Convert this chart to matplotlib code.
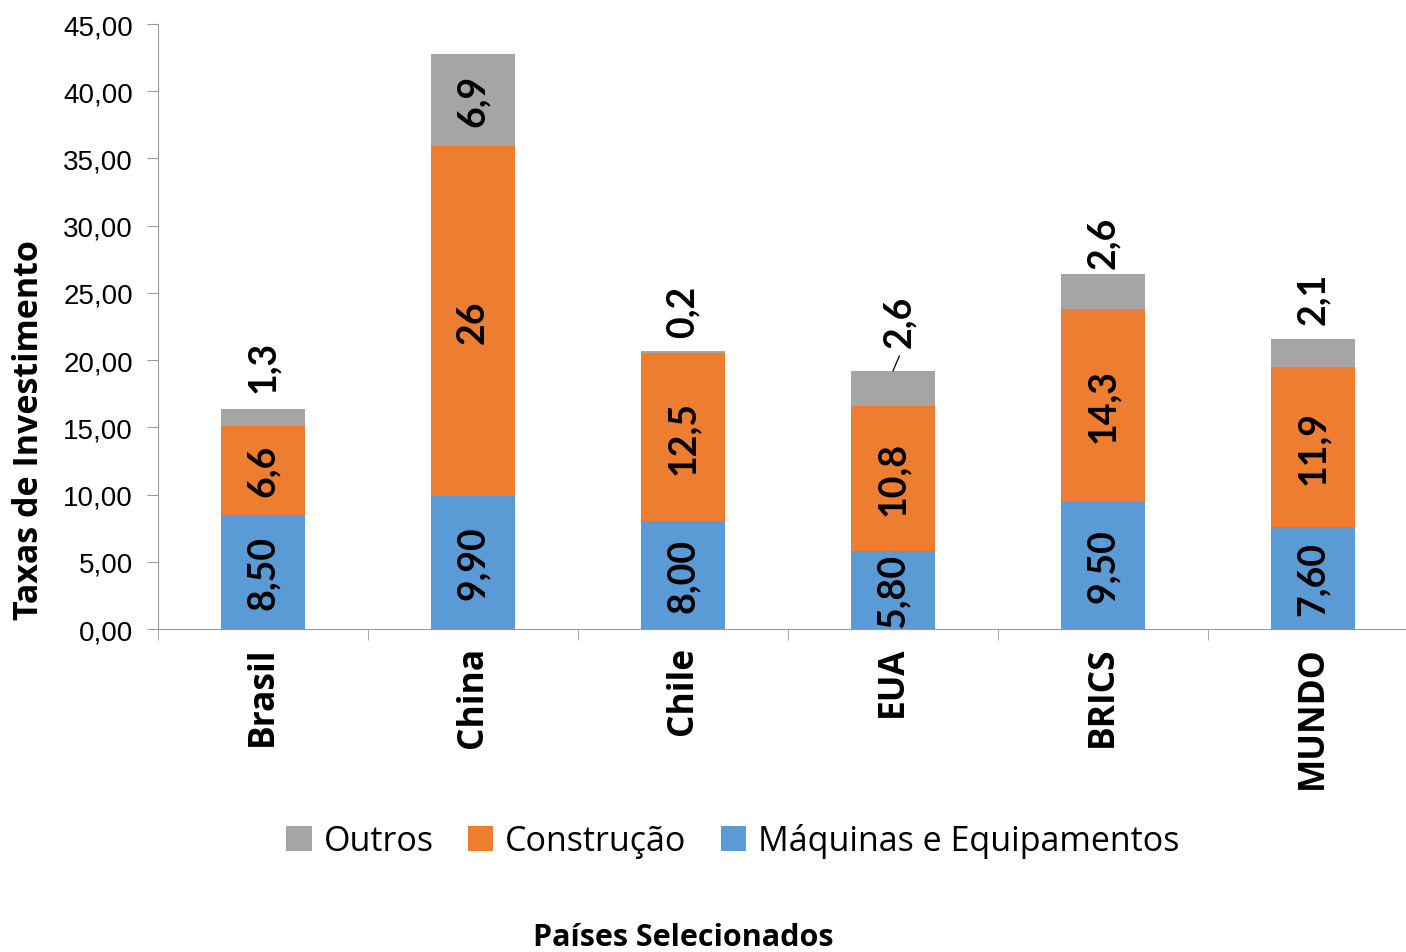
import numpy as np
import matplotlib
matplotlib.use("Agg")
import matplotlib.pyplot as plt

# data
paises = ["Brasil", "China", "Chile", "EUA", "BRICS", "MUNDO"]
maquinas = [8.50, 9.90, 8.00, 5.80, 9.50, 7.60]
construcao = [6.6, 26, 12.5, 10.8, 14.3, 11.9]
outros = [1.3, 6.9, 0.2, 2.6, 2.6, 2.1]
maquinas_lbl = ["8,50", "9,90", "8,00", "5,80", "9,50", "7,60"]
construcao_lbl = ["6,6", "26", "12,5", "10,8", "14,3", "11,9"]
outros_lbl = ["1,3", "6,9", "0,2", "2,6", "2,6", "2,1"]
y_ticks = [0, 5, 10, 15, 20, 25, 30, 35, 40, 45]

c_maq = "#5B9BD5"
c_con = "#ED7D31"
c_out = "#A5A5A5"

lbl_font = "Lato"
txt_font = "Open Sans"
tick_font = "Liberation Sans"

# gap above bar for the "Outros" labels (data units), as placed in the original
gap_out = {"Brasil": 1.2, "Chile": 1.0, "EUA": 1.8, "BRICS": 0.45, "MUNDO": 1.1}

fig = plt.figure(figsize=(14.06, 9.53), dpi=100)
ax = fig.add_axes([158 / 1406, 1 - 630 / 953, 1260 / 1406, 605 / 953])

x = np.arange(len(paises))
w = 0.4
b1 = ax.bar(x, maquinas, w, color=c_maq, label="Máquinas e Equipamentos")
base2 = np.array(maquinas)
b2 = ax.bar(x, construcao, w, bottom=base2, color=c_con, label="Construção")
base3 = base2 + np.array(construcao)
b3 = ax.bar(x, outros, w, bottom=base3, color=c_out, label="Outros")
tops = base3 + np.array(outros)

lbl_kw = dict(rotation=90, ha="center", fontsize=27,
              fontweight="bold", family=lbl_font)
for i, p in enumerate(paises):
    ax.text(x[i], maquinas[i] / 2, maquinas_lbl[i], va="center", **lbl_kw)
    ax.text(x[i], base2[i] + construcao[i] / 2, construcao_lbl[i],
            va="center", **lbl_kw)
    if p == "China":
        ax.text(x[i], base3[i] + outros[i] / 2, outros_lbl[i],
                va="center", **lbl_kw)
        continue
    dx = 0
    if p == "EUA":
        dx = 0.03
        ax.plot([x[i], x[i] + dx], [tops[i], tops[i] + 1.1],
                color="black", lw=0.9)
    ax.text(x[i] + dx, tops[i] + gap_out[p], outros_lbl[i], va="bottom",
            **lbl_kw)

ax.set_xlim(-0.5, 5.5)
ax.set_ylim(0, 45)
ax.set_yticks(y_ticks)
ax.set_yticklabels([f"{v:.2f}".replace(".", ",") for v in y_ticks],
                   fontsize=20, family=tick_font)
ax.set_xticks(x)
ax.set_xticklabels(paises, rotation=90, fontsize=25.5, fontweight="bold",
                   family=txt_font, va="top")
ax.set_xticks(np.arange(-0.5, 5.6, 1), minor=True)
ax.tick_params(axis="x", which="major", length=0, pad=12)
ax.tick_params(axis="x", which="minor", length=8, color="#9a9a9a")
ax.tick_params(axis="y", length=8, color="#9a9a9a", pad=10)

for s in ["top", "right"]:
    ax.spines[s].set_visible(False)
for s in ["left", "bottom"]:
    ax.spines[s].set_color("#9a9a9a")

ax.set_ylabel("Taxas de Investimento", fontsize=24.5, fontweight="bold",
              family=txt_font)
ax.yaxis.set_label_coords((46 - 158) / 1260, 200 / 605)

handles = [b3, b2, b1]
fig.legend(handles, [h.get_label() for h in handles], loc="center",
           bbox_to_anchor=(733 / 1406, 1 - 842 / 953), ncol=3, frameon=False,
           prop={"family": txt_font, "size": 24.5}, handlelength=0.75,
           handleheight=0.75, handletextpad=0.35, columnspacing=1.0)

fig.text(683 / 1406, 1 - 938 / 953, "Países Selecionados", ha="center",
         va="center", fontsize=22, fontweight="bold", family=txt_font)

fig.savefig("out.png", dpi=100)
